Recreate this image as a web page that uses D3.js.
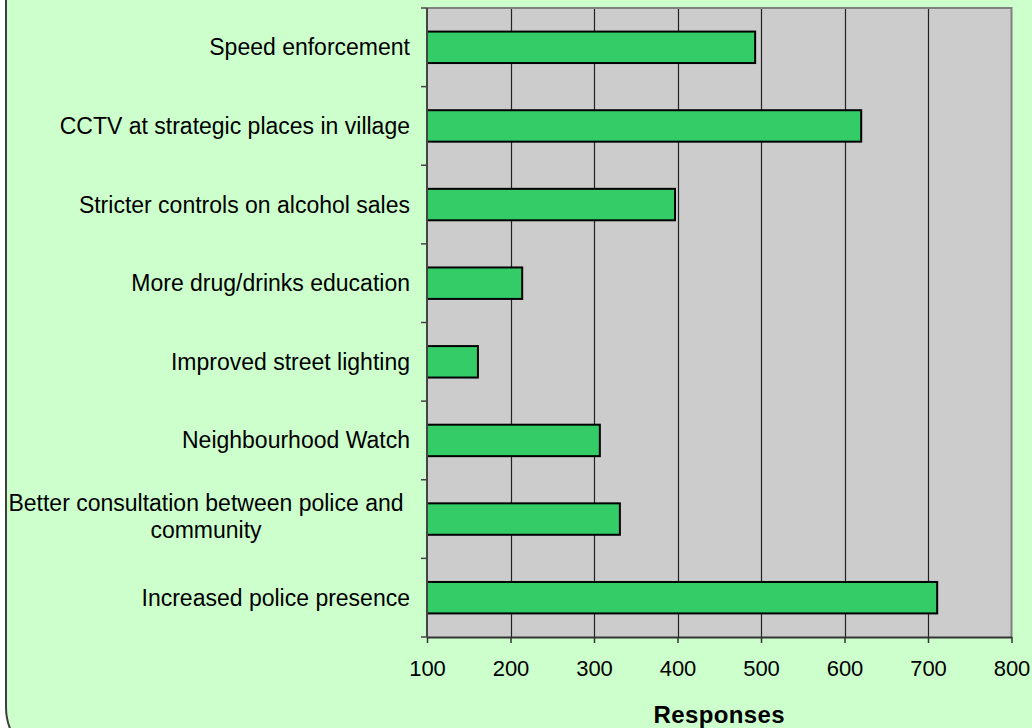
<!DOCTYPE html>
<html>
<head>
<meta charset="utf-8">
<script src="https://cdn.jsdelivr.net/npm/d3@7"></script>
<style>
  html, body { margin: 0; padding: 0; background: #ffffff; }
  svg { display: block; }
  text { font-family: "Liberation Sans", Arial, sans-serif; fill: #000; }
</style>
</head>
<body>
<svg id="chart" width="1032" height="728"></svg>
<script>
// ---- data ----
const categories = [
  "Speed enforcement",
  "CCTV at strategic places in village",
  "Stricter controls on alcohol sales",
  "More drug/drinks education",
  "Improved street lighting",
  "Neighbourhood Watch",
  "Better consultation between police and community",
  "Increased police presence"
];
const responses = [493, 620, 397, 214, 161, 307, 331, 711];
const xTicks = [100, 200, 300, 400, 500, 600, 700, 800];
const xTitle = "Responses";

// ---- layout ----
const W = 1032, H = 728;
const plot = { left: 427, right: 1011.5, top: 8, bottom: 637 };
const labelFont = 23;

const svg = d3.select("#chart");

// outer rounded frame
svg.append("rect")
  .attr("x", 6).attr("y", -80)
  .attr("width", W + 60).attr("height", 764 + 80)
  .attr("rx", 57).attr("ry", 57)
  .attr("fill", "#ccffcc")
  .attr("stroke", "#404040").attr("stroke-width", 2);

const x = d3.scaleLinear().domain([100, 800]).range([plot.left, plot.right]);
const y = d3.scaleBand().domain(categories)
  .range([plot.top, plot.bottom])
  .paddingInner(0.6).paddingOuter(0.3);

// plot background
svg.append("rect")
  .attr("x", plot.left).attr("y", plot.top)
  .attr("width", plot.right - plot.left).attr("height", plot.bottom - plot.top)
  .attr("fill", "#cccccc");

// gridlines
svg.append("g").selectAll("line")
  .data(xTicks.slice(1, -1))
  .join("line")
  .attr("x1", d => Math.round(x(d)) + 0.5).attr("x2", d => Math.round(x(d)) + 0.5)
  .attr("y1", plot.top).attr("y2", plot.bottom)
  .attr("stroke", "#222").attr("stroke-width", 1.2);

// top & right border of plot
svg.append("path")
  .attr("d", `M${plot.left},${plot.top}H${plot.right}V${plot.bottom}`)
  .attr("fill", "none").attr("stroke", "#808080").attr("stroke-width", 2);

// bars
svg.append("g").selectAll("rect")
  .data(categories.map((c, i) => ({ c, v: responses[i] })))
  .join("rect")
  .attr("x", x(100))
  .attr("y", d => y(d.c))
  .attr("width", d => x(d.v) - x(100))
  .attr("height", y.bandwidth())
  .attr("fill", "#33cc66")
  .attr("stroke", "#000").attr("stroke-width", 2);

// x axis
const xAxis = svg.append("g")
  .attr("transform", `translate(0,${plot.bottom})`)
  .call(d3.axisBottom(x).tickValues(xTicks).tickSize(6).tickPadding(17).tickSizeOuter(0));
xAxis.select(".domain").attr("stroke", "#333").attr("stroke-width", 2);
xAxis.selectAll(".tick line").attr("stroke", "#333").attr("stroke-width", 1.5);
xAxis.selectAll(".tick text")
  .attr("font-size", 22).attr("fill", "#000")
  .style("font-family", "'Liberation Sans', Arial, sans-serif");

// y axis line
svg.append("line")
  .attr("x1", plot.left).attr("x2", plot.left)
  .attr("y1", plot.top).attr("y2", plot.bottom)
  .attr("stroke", "#444").attr("stroke-width", 2);

// y band boundary ticks
const bounds = d3.range(categories.length + 1).map(i => y.range()[0] + i * y.step());
svg.append("g").selectAll("line")
  .data(bounds)
  .join("line")
  .attr("x1", plot.left - 6).attr("x2", plot.left)
  .attr("y1", d => d).attr("y2", d => d)
  .attr("stroke", "#444").attr("stroke-width", 1.5);

// category labels (wrapped)
const labelRight = 410, maxW = 405, blockCenter = 206;
const labels = svg.append("g");
function measure(s) {
  const p = svg.append("text").attr("font-size", labelFont).text(s);
  const w = p.node().getComputedTextLength(); p.remove(); return w;
}
categories.forEach(c => {
  const cy = y(c) + y.bandwidth() / 2;
  const t = labels.append("text").attr("font-size", labelFont);
  const words = c.split(" ");
  let lines = [], line = [];
  words.forEach(w => {
    const test = line.concat(w).join(" ");
    if (measure(test) > maxW && line.length) {
      lines.push(line.join(" "));
      line = [w];
    } else line.push(w);
  });
  lines.push(line.join(" "));
  if (lines.length === 1) {
    t.attr("x", labelRight).attr("y", cy + 8).attr("text-anchor", "end").text(lines[0]);
  } else {
    const lh = 27;
    const y0 = cy + 8 - (lines.length - 1) * lh / 2 - 3;
    lines.forEach((l, i) => {
      t.append("tspan").attr("x", blockCenter).attr("y", y0 + i * lh)
        .attr("text-anchor", "middle").text(l);
    });
  }
});

// x title
svg.append("text")
  .attr("x", (plot.left + plot.right) / 2).attr("y", 723)
  .attr("text-anchor", "middle")
  .attr("font-size", 24).attr("font-weight", "bold")
  .attr("letter-spacing", 0.4)
  .text(xTitle);
</script>
</body>
</html>
